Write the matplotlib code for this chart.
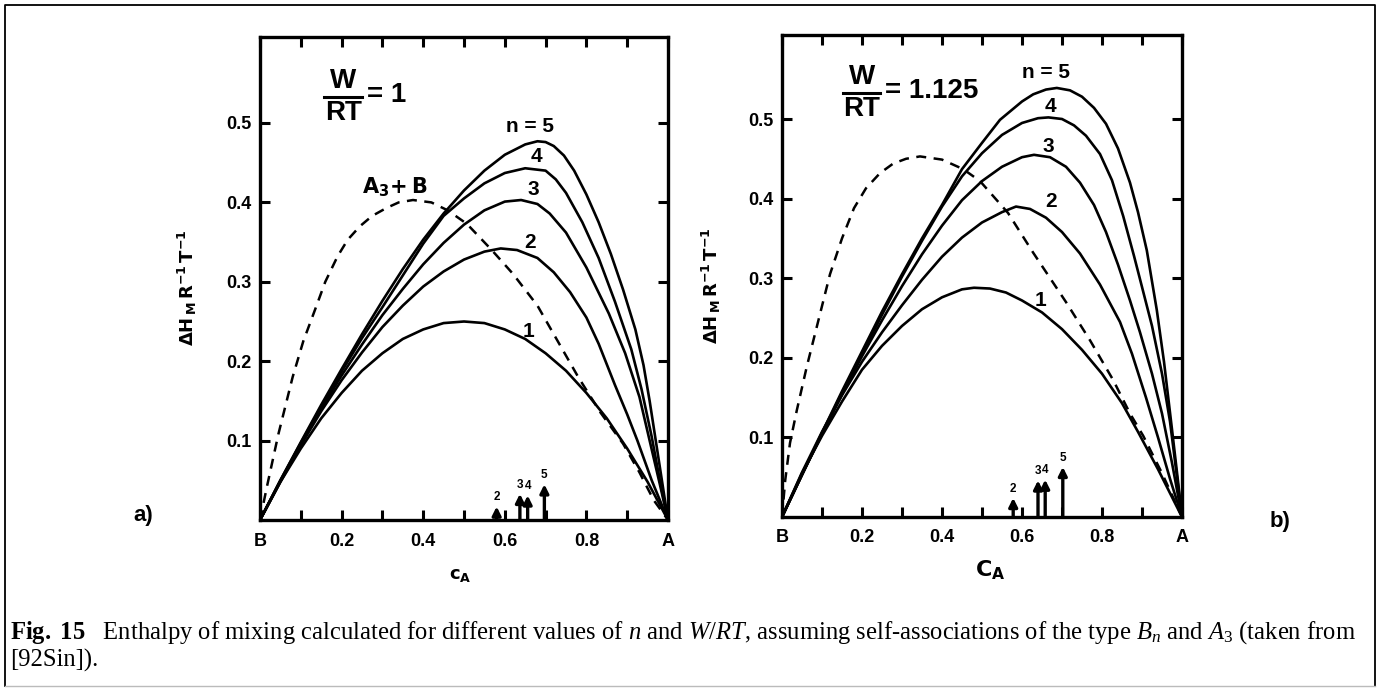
import matplotlib
matplotlib.use('Agg')
import matplotlib.pyplot as plt
from matplotlib.lines import Line2D

plt.rcParams['font.family'] = ['Liberation Sans', 'DejaVu Sans']
plt.rcParams['mathtext.fontset'] = 'custom'
plt.rcParams['mathtext.rm'] = 'Liberation Serif'
plt.rcParams['mathtext.it'] = 'Liberation Serif:italic'
plt.rcParams['mathtext.bf'] = 'Liberation Serif:bold'

# ---- panel a) W/RT = 1 : curves (x = c_A, y = dH_M/RT) ----
a1_x = [0, 0.05, 0.1, 0.15, 0.2, 0.25, 0.3, 0.35, 0.4, 0.45, 0.5, 0.55, 0.6, 0.65, 0.7, 0.75, 0.8, 0.85, 0.9, 0.95, 1.0]
a1_y = [0, 0.048, 0.09, 0.128, 0.16, 0.188, 0.21, 0.228, 0.24, 0.248, 0.25, 0.248, 0.24, 0.228, 0.21, 0.188, 0.16, 0.128, 0.09, 0.048, 0]

a2_x = [0, 0.05, 0.1, 0.15, 0.2, 0.25, 0.3, 0.35, 0.4, 0.45, 0.5, 0.55, 0.59, 0.63, 0.68, 0.72, 0.76, 0.8, 0.83, 0.87, 0.9, 0.925, 0.96, 1.0]
a2_y = [0, 0.048, 0.094, 0.137, 0.176, 0.211, 0.243, 0.27, 0.294, 0.313, 0.328, 0.338, 0.342, 0.34, 0.33, 0.312, 0.287, 0.255, 0.222, 0.17, 0.133, 0.1, 0.05, 0]

a3_x = [0, 0.05, 0.1, 0.15, 0.2, 0.25, 0.3, 0.35, 0.4, 0.45, 0.5, 0.55, 0.6, 0.64, 0.68, 0.71, 0.75, 0.8, 0.855, 0.895, 0.93, 0.955, 0.98, 1.0]
a3_y = [0, 0.049, 0.096, 0.14, 0.182, 0.221, 0.258, 0.291, 0.322, 0.349, 0.372, 0.39, 0.401, 0.403, 0.398, 0.386, 0.362, 0.318, 0.26, 0.21, 0.155, 0.1, 0.045, 0]

a4_x = [0, 0.05, 0.1, 0.15, 0.2, 0.25, 0.3, 0.35, 0.4, 0.45, 0.5, 0.55, 0.6, 0.65, 0.7, 0.725, 0.75, 0.79, 0.83, 0.87, 0.91, 0.935, 0.96, 0.98, 1.0]
a4_y = [0, 0.05, 0.097, 0.143, 0.187, 0.229, 0.268, 0.308, 0.348, 0.383, 0.405, 0.424, 0.437, 0.443, 0.44, 0.429, 0.412, 0.375, 0.33, 0.275, 0.215, 0.165, 0.105, 0.05, 0]

a5_x = [0, 0.05, 0.1, 0.15, 0.2, 0.25, 0.3, 0.35, 0.4, 0.45, 0.5, 0.55, 0.6, 0.65, 0.68, 0.7, 0.72, 0.745, 0.77, 0.8, 0.83, 0.86, 0.89, 0.92, 0.94, 0.955, 0.97, 0.985, 1.0]
a5_y = [0, 0.05, 0.098, 0.145, 0.19, 0.234, 0.276, 0.316, 0.353, 0.386, 0.415, 0.44, 0.46, 0.473, 0.477, 0.476, 0.471, 0.459, 0.44, 0.41, 0.375, 0.335, 0.29, 0.24, 0.195, 0.15, 0.1, 0.05, 0]

a_dash_x = [0, 0.017, 0.045, 0.08, 0.106, 0.135, 0.16, 0.19, 0.215, 0.245, 0.275, 0.31, 0.34, 0.375, 0.42, 0.46, 0.507, 0.568, 0.62, 0.68, 0.73, 0.78, 0.835, 0.89, 0.93, 0.965, 1.0]
a_dash_y = [0, 0.042, 0.108, 0.18, 0.225, 0.265, 0.3, 0.332, 0.353, 0.37, 0.383, 0.393, 0.4, 0.403, 0.4, 0.39, 0.373, 0.34, 0.31, 0.27, 0.225, 0.18, 0.135, 0.096, 0.06, 0.025, 0]

a_arrow_x = [0.58, 0.637, 0.656, 0.697]
a_arrow_h = [0.017, 0.033, 0.031, 0.045]
a_arrow_lab = ['2', '3', '4', '5']

# ---- panel b) W/RT = 1.125 ----
b1_x = [0, 0.05, 0.1, 0.15, 0.2, 0.25, 0.3, 0.35, 0.4, 0.45, 0.48, 0.52, 0.56, 0.6, 0.65, 0.7, 0.75, 0.8, 0.85, 0.89, 0.94, 1.0]
b1_y = [0, 0.055, 0.102, 0.145, 0.185, 0.215, 0.24, 0.261, 0.276, 0.286, 0.288, 0.287, 0.282, 0.272, 0.257, 0.236, 0.21, 0.18, 0.143, 0.107, 0.06, 0]

b2_x = [0, 0.05, 0.1, 0.15, 0.2, 0.25, 0.3, 0.35, 0.4, 0.45, 0.5, 0.55, 0.585, 0.62, 0.66, 0.7, 0.745, 0.795, 0.845, 0.875, 0.91, 0.94, 0.97, 1.0]
b2_y = [0, 0.056, 0.107, 0.153, 0.195, 0.232, 0.266, 0.298, 0.327, 0.351, 0.37, 0.383, 0.39, 0.387, 0.376, 0.358, 0.331, 0.292, 0.245, 0.205, 0.15, 0.1, 0.048, 0]

b3_x = [0, 0.05, 0.1, 0.15, 0.2, 0.25, 0.3, 0.35, 0.4, 0.45, 0.5, 0.55, 0.6, 0.63, 0.67, 0.71, 0.745, 0.78, 0.81, 0.84, 0.87, 0.895, 0.925, 0.95, 0.975, 1.0]
b3_y = [0, 0.053, 0.104, 0.154, 0.202, 0.247, 0.29, 0.33, 0.366, 0.398, 0.422, 0.44, 0.452, 0.455, 0.452, 0.44, 0.42, 0.392, 0.358, 0.317, 0.272, 0.232, 0.18, 0.13, 0.068, 0]

b4_x = [0, 0.05, 0.1, 0.15, 0.2, 0.25, 0.3, 0.35, 0.4, 0.45, 0.5, 0.55, 0.6, 0.64, 0.666, 0.7, 0.73, 0.76, 0.795, 0.825, 0.853, 0.88, 0.9, 0.925, 0.95, 0.97, 0.985, 1.0]
b4_y = [0, 0.053, 0.105, 0.156, 0.205, 0.254, 0.302, 0.347, 0.39, 0.428, 0.457, 0.48, 0.495, 0.501, 0.502, 0.5, 0.492, 0.479, 0.456, 0.423, 0.378, 0.328, 0.289, 0.24, 0.18, 0.12, 0.06, 0]

b5_x = [0, 0.05, 0.1, 0.15, 0.2, 0.25, 0.3, 0.35, 0.4, 0.45, 0.5, 0.545, 0.6, 0.628, 0.66, 0.687, 0.72, 0.75, 0.78, 0.81, 0.84, 0.87, 0.89, 0.912, 0.937, 0.955, 0.975, 0.99, 1.0]
b5_y = [0, 0.053, 0.106, 0.158, 0.208, 0.258, 0.305, 0.35, 0.392, 0.437, 0.47, 0.499, 0.522, 0.531, 0.537, 0.539, 0.536, 0.528, 0.514, 0.494, 0.463, 0.42, 0.383, 0.335, 0.26, 0.195, 0.11, 0.045, 0]

b_dash_x = [0, 0.008, 0.02, 0.037, 0.062, 0.095, 0.12, 0.15, 0.18, 0.21, 0.245, 0.278, 0.31, 0.345, 0.4, 0.453, 0.495, 0.565, 0.628, 0.71, 0.77, 0.828, 0.87, 0.903, 0.95, 1.0]
b_dash_y = [0, 0.046, 0.093, 0.134, 0.189, 0.255, 0.305, 0.35, 0.388, 0.413, 0.432, 0.444, 0.45, 0.453, 0.449, 0.437, 0.422, 0.382, 0.332, 0.27, 0.222, 0.172, 0.13, 0.102, 0.055, 0]

b_arrow_x = [0.578, 0.64, 0.658, 0.702]
b_arrow_h = [0.024, 0.046, 0.047, 0.063]
b_arrow_lab = ['2', '3', '4', '5']

xtick_pos = [0, 0.2, 0.4, 0.6, 0.8, 1.0]
xtick_lab = ['B', '0.2', '0.4', '0.6', '0.8', 'A']
xminor_pos = [0.1, 0.3, 0.5, 0.7, 0.9]
ytick_pos = [0.1, 0.2, 0.3, 0.4, 0.5]
ytick_lab = ['0.1', '0.2', '0.3', '0.4', '0.5']

W, H = 1377, 693
fig = plt.figure(figsize=(W / 100, H / 100), dpi=100)

axA = fig.add_axes([260 / W, 1 - 520 / H, 408 / W, (520 - 36.7) / H])
axB = fig.add_axes([782 / W, 1 - 517 / H, 400 / W, (517 - 35) / H])


def style(ax, ymax):
    ax.set_xlim(0, 1)
    ax.set_ylim(0, ymax)
    for s in ax.spines.values():
        s.set_linewidth(2.4)
    ax.set_xticks(xtick_pos)
    ax.set_xticklabels(xtick_lab)
    ax.set_xticks(xminor_pos, minor=True)
    ax.set_yticks(ytick_pos)
    ax.set_yticklabels(ytick_lab)
    ax.tick_params(which='both', direction='in', top=True, right=True, length=7, width=2.2)
    ax.tick_params(axis='x', which='major', pad=9)
    ax.tick_params(axis='y', pad=6)
    for lab in ax.get_xticklabels() + ax.get_yticklabels():
        lab.set_fontsize(13)
        lab.set_fontweight('bold')


def arrows(ax, xs, hs, labs):
    for x, h, lab in zip(xs, hs, labs):
        ax.annotate('', xy=(x, h), xytext=(x, 0),
                    arrowprops=dict(arrowstyle='-|>,head_length=0.5,head_width=0.25',
                                    lw=2.4, color='black', shrinkA=0, shrinkB=0))
        ax.text(x, h + 0.004, lab, fontsize=8.5, fontweight='bold', ha='center', va='bottom')


def frac(ax, x, y, rhs):
    ax.text(x, y + 0.018, 'W', fontsize=20, fontweight='bold', ha='center', va='center')
    ax.text(x, y - 0.022, 'RT', fontsize=20, fontweight='bold', ha='center', va='center')
    ax.plot([x - 0.047, x + 0.047], [y - 0.002, y - 0.002], color='black', lw=2.2)
    ax.text(x + 0.058, y, rhs, fontsize=20, fontweight='bold', ha='left', va='center')


# panel a
style(axA, (520 - 36.7) / 794)
for xs, ys in [(a1_x, a1_y), (a2_x, a2_y), (a3_x, a3_y), (a4_x, a4_y), (a5_x, a5_y)]:
    axA.plot(xs, ys, color='black', lw=1.9)
axA.plot(a_dash_x, a_dash_y, color='black', lw=1.8, linestyle=(0, (4, 3)))
arrows(axA, a_arrow_x, a_arrow_h, a_arrow_lab)
frac(axA, 0.204, 0.535, '= 1')
for txt, x, y in [('n = 5', 0.662, 0.496), ('4', 0.678, 0.458), ('3', 0.67, 0.416),
                  ('2', 0.662, 0.35), ('1', 0.657, 0.237)]:
    axA.text(x, y, txt, fontsize=15, fontweight='bold', ha='center', va='center')
axA.text(0.33, 0.419, r'$\mathbf{A_3\!+B}$', fontsize=15, math_fontfamily='dejavusans',
         ha='center', va='center')
axA.set_ylabel(r'$\mathbf{\Delta H_{\,M}\,R^{-1}\,T^{-1}}$', fontsize=13, math_fontfamily='dejavusans')
axA.yaxis.set_label_coords(-0.15, 0.48)
axA.text(0.49, -0.114, r'$\mathbf{c_A}$', fontsize=13, math_fontfamily='dejavusans',
         ha='center', va='center', transform=axA.transAxes)

# panel b
style(axB, (517 - 35) / 796)
for xs, ys in [(b1_x, b1_y), (b2_x, b2_y), (b3_x, b3_y), (b4_x, b4_y), (b5_x, b5_y)]:
    axB.plot(xs, ys, color='black', lw=1.9)
axB.plot(b_dash_x, b_dash_y, color='black', lw=1.8, linestyle=(0, (4, 3)))
arrows(axB, b_arrow_x, b_arrow_h, b_arrow_lab)
frac(axB, 0.199, 0.535, '= 1.125')
for txt, x, y in [('n = 5', 0.66, 0.558), ('4', 0.672, 0.516), ('3', 0.665, 0.466),
                  ('2', 0.672, 0.396), ('1', 0.645, 0.272)]:
    axB.text(x, y, txt, fontsize=15, fontweight='bold', ha='center', va='center')
axB.set_ylabel(r'$\mathbf{\Delta H_{\,M}\,R^{-1}\,T^{-1}}$', fontsize=13, math_fontfamily='dejavusans')
axB.yaxis.set_label_coords(-0.147, 0.48)
axB.text(0.52, -0.11, r'$\mathbf{C_A}$', fontsize=16, math_fontfamily='dejavusans',
         ha='center', va='center', transform=axB.transAxes)

# panel letters
fig.text(143 / W, 1 - 515 / H, 'a)', fontsize=16, fontweight='bold', ha='center', va='center')
fig.text(1280 / W, 1 - 522 / H, 'b)', fontsize=16, fontweight='bold', ha='center', va='center')

# caption
cap1 = (r'$\mathbf{Fig.\ 15}$   Enthalpy of mixing calculated for different values of $n$ and $W/RT$, '
        r'assuming self-associations of the type $B_n$ and $A_3$ (taken from')
fig.text(10 / W, 1 - 633 / H, cap1, fontsize=17.7, family='Liberation Serif', ha='left', va='center')
fig.text(10 / W, 1 - 660 / H, '[92Sin]).', fontsize=17.7, family='Liberation Serif', ha='left', va='center')

# frame round the figure
fig.add_artist(Line2D([5 / W, 5 / W, 1375 / W, 1375 / W], [1 - 686 / H, 1 - 5 / H, 1 - 5 / H, 1 - 686 / H],
                      transform=fig.transFigure, color='black', lw=1.3))
fig.add_artist(Line2D([5 / W, 1375 / W], [1 - 686 / H, 1 - 686 / H],
                      transform=fig.transFigure, color='#bbbbbb', lw=1.0))

fig.savefig('out.png', dpi=100)
